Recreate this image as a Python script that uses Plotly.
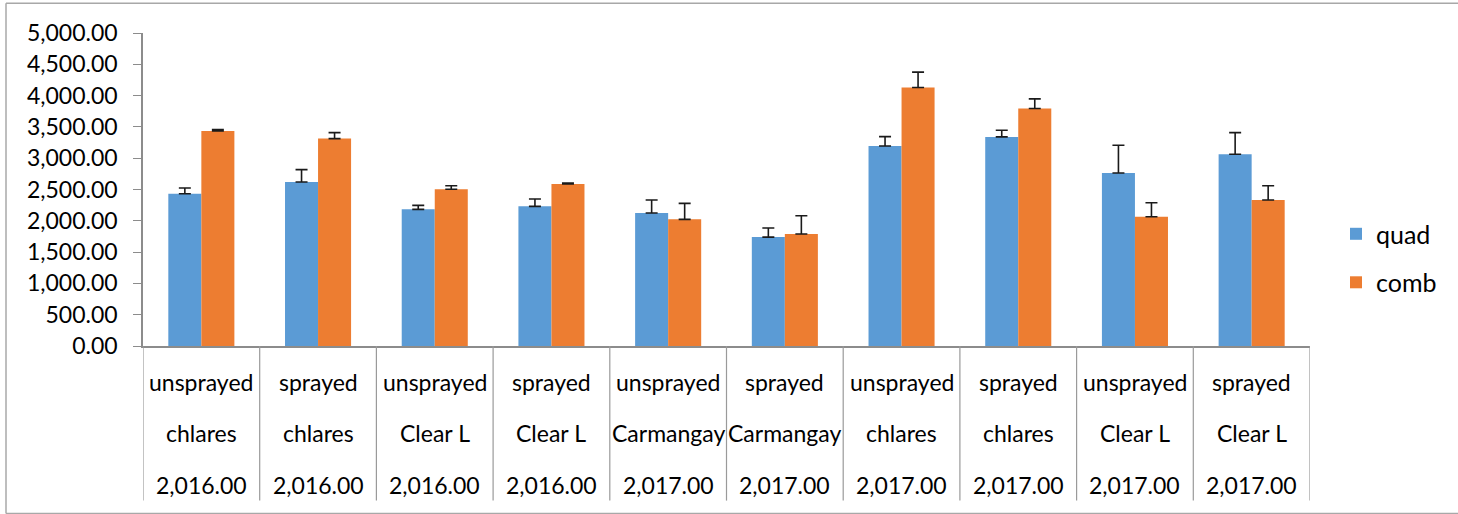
import plotly.graph_objects as go

# ---- data ----
treatments = ["unsprayed", "sprayed", "unsprayed", "sprayed", "unsprayed",
              "sprayed", "unsprayed", "sprayed", "unsprayed", "sprayed"]
sites = ["chlares", "chlares", "Clear L", "Clear L", "Carmangay",
         "Carmangay", "chlares", "chlares", "Clear L", "Clear L"]
years = ["2,016.00"] * 4 + ["2,017.00"] * 6

quad = [2433, 2620, 2183, 2231, 2124, 1740, 3196, 3340, 2764, 3063]
quad_err = [90, 197, 64, 117, 208, 144, 149, 107, 443, 346]
comb = [3436, 3313, 2503, 2588, 2023, 1788, 4129, 3793, 2065, 2332]
comb_err = [20, 96, 58, 16, 256, 293, 246, 155, 224, 229]

series_names = ["quad", "comb"]
colors = ["#5B9BD5", "#ED7D31"]

# ---- layout geometry (pixels) ----
W, H = 1458, 514
L, R = 143, 1310          # plot area x
T, B = 33.3, 345.7        # plot area y
FONT = "Lato"
FS = 23

def px_x(x):
    return (x - L) / (R - L)

def px_y(y):
    return (B - y) / (B - T)

n = len(treatments)
xs = list(range(n))

fig = go.Figure()
for name, vals, errs, col in zip(series_names, [quad, comb], [quad_err, comb_err], colors):
    fig.add_trace(go.Bar(
        x=xs, y=vals, name=name, marker_color=col,
        marker_line_width=0, legendgroup=name,
        error_y=dict(type="data", symmetric=False, array=errs,
                     arrayminus=[0] * n, color="#1a1a1a",
                     thickness=1.6, width=6),
    ))

shapes = []
# category dividers below the axis
for i in range(n + 1):
    shapes.append(dict(type="line", xref="x", yref="paper",
                       x0=i - 0.5, x1=i - 0.5, y0=0, y1=px_y(500),
                       line=dict(color="#9a9a9a", width=1.2)))
# outer chart border (left, top, bottom)
bx0, by0, by1 = px_x(6), px_y(3.5), px_y(513)
for (x0, y0, x1, y1) in [(bx0, by1, bx0, by0), (bx0, by0, px_x(1470), by0),
                         (bx0, by1, px_x(1470), by1)]:
    shapes.append(dict(type="line", xref="paper", yref="paper",
                       x0=x0, y0=y0, x1=x1, y1=y1,
                       line=dict(color="#a8a8a8", width=1.5)))

annotations = []
for row, (labels, ypx) in enumerate([(treatments, 382), (sites, 433), (years, 484)]):
    for i, lab in enumerate(labels):
        annotations.append(dict(x=i, y=px_y(ypx), xref="x", yref="paper",
                                text=lab, showarrow=False,
                                xanchor="center", yanchor="middle",
                                font=dict(family=FONT, size=FS, color="#000")))

fig.update_layout(
    width=W, height=H,
    margin=dict(l=L, r=W - R, t=T, b=H - B),
    paper_bgcolor="white", plot_bgcolor="white",
    barmode="group", bargap=0.434, bargroupgap=0,
    font=dict(family=FONT, size=FS, color="#000"),
    shapes=shapes, annotations=annotations,
    showlegend=True,
    legend=dict(x=px_x(1336), y=px_y(211), xanchor="left", yanchor="top",
                font=dict(family=FONT, size=25, color="#000"),
                tracegroupgap=13, bgcolor="rgba(0,0,0,0)"),
    xaxis=dict(range=[-0.5, n - 0.5], showticklabels=False, ticks="",
               showgrid=False, zeroline=False, showline=True,
               linecolor="#8c8c8c", linewidth=1.5, fixedrange=True),
    yaxis=dict(range=[0, 5000], dtick=500, tick0=0, tickformat=",.2f",
               showgrid=False, zeroline=False, showline=True,
               linecolor="#8c8c8c", linewidth=1.5, ticks="outside",
               ticklen=8, tickcolor="#8c8c8c", tickwidth=1.3,
               ticklabelstandoff=11,
               tickfont=dict(family=FONT, size=FS, color="#000")),
)

fig.write_html("out.html", config={"displayModeBar": False},
               post_script="document.body.style.margin='0px';document.body.style.padding='0px';")
